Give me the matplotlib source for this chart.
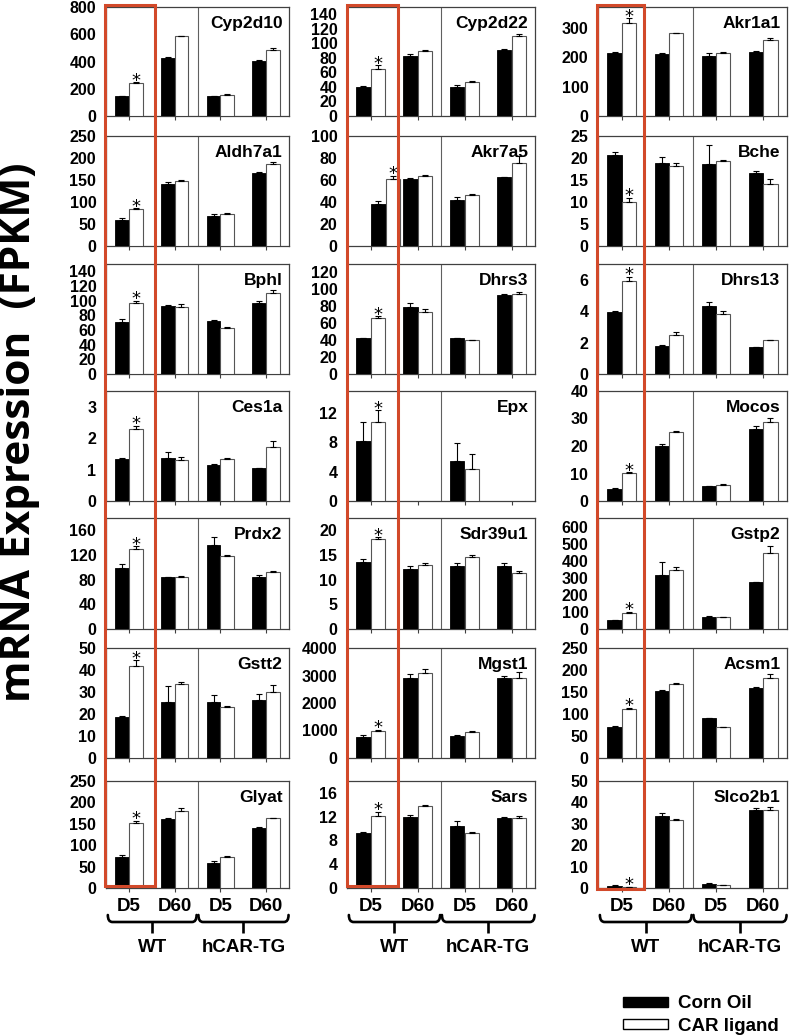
import numpy as np
import matplotlib
matplotlib.use('Agg')
import matplotlib.pyplot as plt
from matplotlib.patches import Rectangle, Patch, PathPatch
from matplotlib.path import Path
from matplotlib import transforms

plt.rcParams['font.family'] = ['Liberation Sans', 'DejaVu Sans']
plt.rcParams['font.weight'] = 'bold'

nan = np.nan

groups = ['D5', 'D60', 'D5', 'D60']
genotypes = ['WT', 'hCAR-TG']
treatments = ['Corn Oil', 'CAR ligand']

# genes, column by column (top to bottom)
genes = ['Cyp2d10', 'Aldh7a1', 'Bphl', 'Ces1a', 'Prdx2', 'Gstt2', 'Glyat',
         'Cyp2d22', 'Akr7a5', 'Dhrs3', 'Epx', 'Sdr39u1', 'Mgst1', 'Sars',
         'Akr1a1', 'Bche', 'Dhrs13', 'Mocos', 'Gstp2', 'Acsm1', 'Slco2b1']

# columns: WT D5, WT D60, hCAR-TG D5, hCAR-TG D60
oil_mean = np.array([
    [144, 428, 144, 404],
    [60, 142, 68, 165],
    [71, 92.5, 72, 97],
    [1.33, 1.38, 1.13, 1.04],
    [98.6, 84, 136, 84],
    [18.5, 25.6, 25.6, 26.5],
    [72, 162, 58, 141],
    [40, 83, 40, 91],
    [38.6, 60.5, 41.6, 62.6],
    [42, 79.5, 42, 93.7],
    [8.2, nan, 5.4, nan],
    [13.5, 12.2, 12.8, 12.75],
    [775, 2910, 810, 2925],
    [9.3, 12.0, 10.5, 11.8],
    [213, 212, 204, 217],
    [20.7, 18.8, 18.7, 16.5],
    [3.96, 1.8, 4.35, 1.71],
    [4.2, 19.9, 5.3, 26.3],
    [50, 316, 68, 274],
    [70, 152.7, 90, 160],
    [1.1, 33.8, 2.0, 36.5],
])
oil_err = np.array([
    [5, 5, 5, 5],
    [3, 4, 4, 4],
    [4, 2, 2, 3],
    [0.03, 0.18, 0.06, 0.02],
    [7, 1, 14, 3],
    [0.5, 7, 3.2, 2.5],
    [4, 2, 5, 1.5],
    [1.5, 2, 3, 1],
    [2, 1.5, 3.3, 0.3],
    [1, 4, 1, 0.4],
    [2.6, nan, 2.5, nan],
    [0.75, 0.5, 0.5, 0.7],
    [60, 160, 25, 60],
    [0.05, 0.2, 0.8, 0.1],
    [5, 3, 11, 4],
    [0.75, 1.4, 4.2, 0.5],
    [0.04, 0.06, 0.25, 0.04],
    [0.4, 0.8, 0.3, 0.8],
    [4, 78, 10, 4],
    [3, 1.5, 1.5, 1.5],
    [0.2, 1.1, 0.5, 0.8],
])
car_mean = np.array([
    [243, 585, 156, 485],
    [83, 148, 72, 186],
    [97, 92, 63, 111],
    [2.28, 1.29, 1.34, 1.73],
    [130, 84.5, 118, 92.6],
    [42, 33.5, 23, 30],
    [152, 180, 73, 163],
    [65, 90, 47, 110],
    [61, 64, 46.7, 75.7],
    [66, 73.6, 40, 94.5],
    [10.8, nan, 4.4, nan],
    [18.3, 13.0, 14.6, 11.4],
    [990, 3075, 940, 2925],
    [12.1, 13.8, 9.3, 11.7],
    [315, 281, 214.5, 258],
    [9.9, 18.2, 19.3, 14],
    [5.95, 2.5, 3.85, 2.14],
    [10.1, 25.2, 5.9, 28.6],
    [96, 346, 70, 444],
    [110.7, 169, 71, 181.7],
    [0.6, 31.8, 1.5, 36.3],
])
car_err = np.array([
    [5, 4, 3, 17],
    [3, 2, 3, 5],
    [3, 3, 1, 4],
    [0.12, 0.1, 0.04, 0.17],
    [4, 1, 2, 2],
    [2.5, 1, 0.5, 3],
    [5, 6, 1.5, 1.5],
    [5, 1.5, 1, 3],
    [3, 0.6, 1, 5.7],
    [2, 2.8, 0.4, 2.4],
    [1.6, nan, 2.0, nan],
    [0.3, 0.3, 0.4, 0.3],
    [40, 150, 25, 210],
    [0.7, 0.2, 0.1, 0.4],
    [16, 2, 3, 7],
    [1.1, 0.6, 0.2, 1.2],
    [0.25, 0.17, 0.15, 0.02],
    [0.4, 0.4, 0.3, 1.5],
    [4, 16, 2, 40],
    [4, 1.5, 0, 10],
    [0.1, 0.6, 0.1, 1.5],
])

y_max = [800, 250, 150, 3.5, 180, 50, 250,
         150, 100, 130, 15, 22.5, 4000, 18,
         370, 25, 7, 40, 650, 250, 50]
y_step = [200, 50, 20, 1, 40, 10, 50,
          20, 20, 20, 4, 5, 1000, 4,
          100, 5, 2, 10, 100, 50, 10]

# ---- layout (pixels) ----
W, H = 789, 1036
col_x = [(106, 289), (347, 535), (598, 787)]
row_y = [(7, 116), (136, 246), (264, 374), (391, 501),
         (518, 629), (648, 758), (781, 888)]
red_boxes = [(105, 155, 5, 886), (347, 398, 5, 886), (597, 644, 5, 889)]
d5_shift = {'Akr7a5': 0.32}

fig = plt.figure(figsize=(W / 100, H / 100), dpi=100)

frame_col = '#404040'
bw = 0.3
x = np.arange(4)

for i, gene in enumerate(genes):
    c, r = divmod(i, 7)
    x0, x1 = col_x[c]
    y0, y1 = row_y[r]
    ax = fig.add_axes([x0 / W, 1 - y1 / H, (x1 - x0) / W, (y1 - y0) / H])

    xs = x.astype(float).copy()
    xs[0] += d5_shift.get(gene, 0)

    ekw = dict(ecolor='black', elinewidth=0.8, capsize=2, capthick=0.8)
    zeros = np.zeros(4)
    ax.bar(xs - bw / 2, oil_mean[i], bw, color='black', edgecolor='black', linewidth=0.6,
           yerr=[zeros, oil_err[i]], error_kw=ekw, zorder=3)
    ax.bar(xs + bw / 2, car_mean[i], bw, color='white', edgecolor='#555555', linewidth=0.8,
           yerr=[zeros, car_err[i]], error_kw=ekw, zorder=3)

    # significance star on WT D5 ligand bar
    ax.annotate('*', (xs[0] + bw / 2, car_mean[i][0] + car_err[i][0]),
                xytext=(0, -2.5), textcoords='offset points',
                ha='center', va='baseline', fontsize=13, fontweight='normal',
                family='DejaVu Sans', zorder=4)

    ax.axvline(1.5, color='#606060', lw=0.8, zorder=2)
    ax.set_xlim(-0.5, 3.5)
    ax.set_ylim(0, y_max[i])
    last = np.floor(y_max[i] / y_step[i] + 1e-9) * y_step[i]
    ticks = np.arange(0, last + y_step[i] / 2, y_step[i])
    ax.set_yticks(ticks)
    ax.set_yticklabels(['%g' % t for t in ticks])
    ax.tick_params(axis='y', length=0, pad=7, labelsize=11.5)
    ax.set_xticks(x)
    ax.tick_params(axis='x', length=3, width=0.8, direction='out', color=frame_col)
    if r == 6:
        ax.set_xticklabels(groups, fontsize=13.5, fontweight='bold')
        ax.tick_params(axis='x', pad=4)
    else:
        ax.set_xticklabels([])
    for s in ax.spines.values():
        s.set_color(frame_col)
        s.set_linewidth(0.9)

    ax.text(0.965, 0.92, gene, transform=ax.transAxes, ha='right', va='top',
            fontsize=12.5, fontweight='bold')

    # braces under the bottom row
    if r == 6:
        tr = transforms.blended_transform_factory(ax.transData, fig.transFigure)
        yt, yh, yb = 1 - 915 / H, 1 - 922 / H, 1 - 933 / H
        rr = 0.1
        for (a, b), lab in zip([(-0.46, 1.48), (1.52, 3.49)], genotypes):
            m = (a + b) / 2
            verts = [(a, yt), (a, yh), (a + rr, yh), (b - rr, yh), (b, yh), (b, yt)]
            codes = [Path.MOVETO, Path.CURVE3, Path.CURVE3, Path.LINETO,
                     Path.CURVE3, Path.CURVE3]
            fig.add_artist(PathPatch(Path(verts, codes), fill=False, lw=1.9,
                                     ec='black', transform=tr, capstyle='round'))
            fig.add_artist(plt.Line2D([m, m], [yh, yb], lw=1.9, color='black',
                                      transform=tr, solid_capstyle='butt'))
            ax.text(m, 1 - 947 / H, lab, transform=tr, ha='center', va='center',
                    fontsize=13.5, fontweight='bold')

# red highlight boxes around WT D5
for bx0, bx1, by0, by1 in red_boxes:
    fig.add_artist(Rectangle((bx0 / W, 1 - by1 / H), (bx1 - bx0) / W, (by1 - by0) / H,
                             transform=fig.transFigure, fill=False,
                             ec='#d2492a', lw=2.2, zorder=10))

fig.text(20 / W, 1 - 432 / H, 'mRNA Expression  (FPKM)', rotation=90,
         ha='center', va='center', fontsize=30.5, fontweight='bold',
         family=['Open Sans', 'DejaVu Sans'])

handles = [Patch(facecolor='black', edgecolor='black'),
           Patch(facecolor='white', edgecolor='black')]
fig.legend(handles, treatments, loc='upper left', bbox_to_anchor=(615 / W, 1 - 988 / H),
           frameon=False, prop=dict(size=13.5, weight='bold'),
           handlelength=2.4, handleheight=0.45, labelspacing=0.3, handletextpad=0.55,
           borderaxespad=0)

fig.savefig('out.png', dpi=100)
